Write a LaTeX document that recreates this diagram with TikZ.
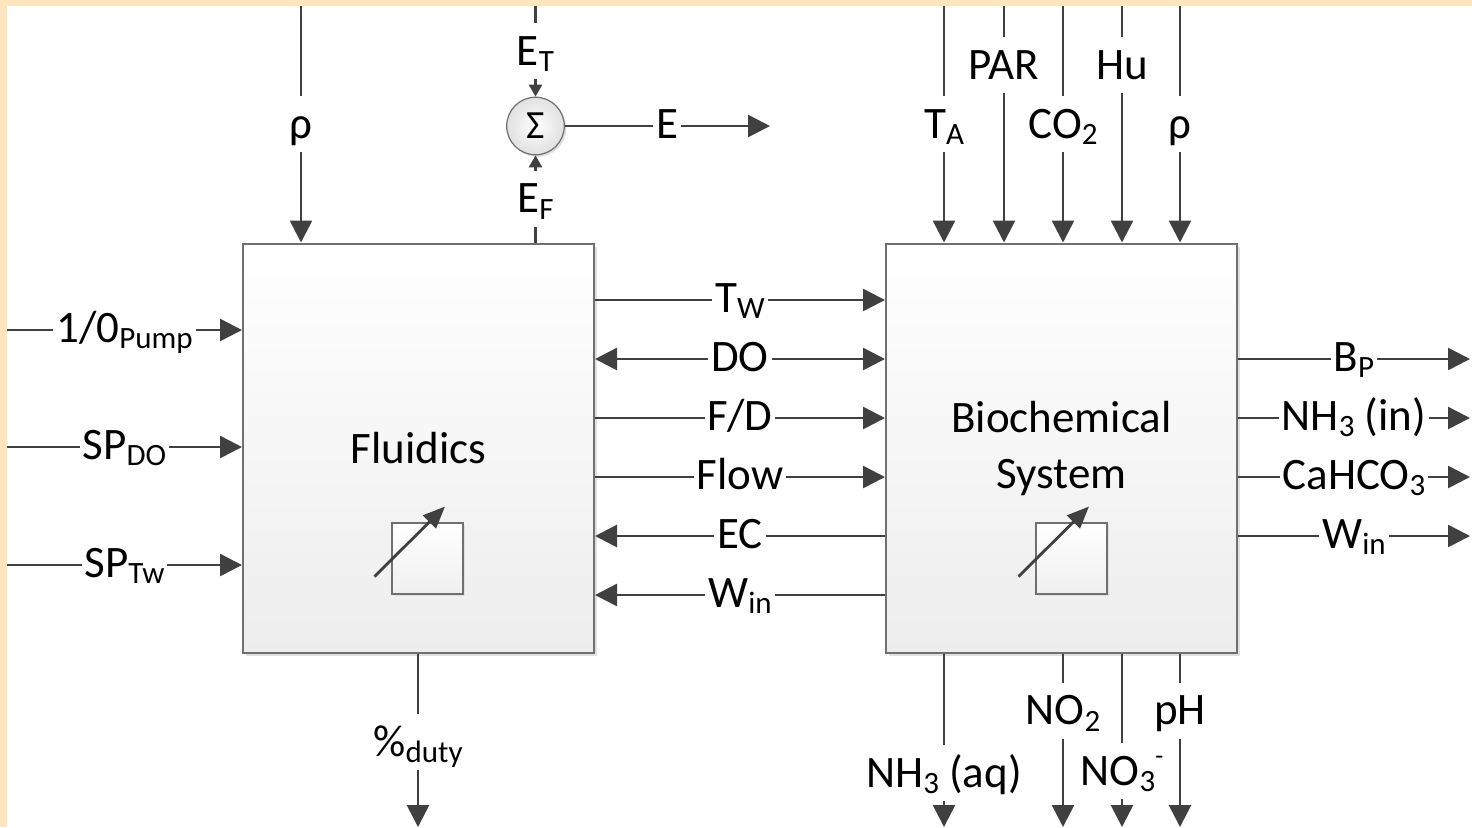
\documentclass[tikz,border=0pt]{standalone}
\usepackage{fontspec}
\setmainfont{Carlito}
\usetikzlibrary{positioning,arrows.meta,shadows}

\definecolor{band}{RGB}{255,230,190}
\definecolor{ink}{RGB}{64,64,64}
\definecolor{rim}{RGB}{112,112,112}

\newcommand{\lo}[1]{\raisebox{-0.3ex}{\fontsize{15.5}{16}\selectfont #1}}
\newcommand{\hi}[1]{\raisebox{1.0ex}{\fontsize{13}{14}\selectfont #1}}

\begin{document}
\begin{tikzpicture}[
  x=0.5pt, y=-0.5pt,
  font=\fontsize{22.5}{26}\selectfont,
  blk/.style={draw=rim, line width=1pt, top color=white, bottom color=black!7,
    minimum width=175.5pt, minimum height=204.5pt, inner sep=0pt,
    font=\fontsize{22.5}{28}\selectfont, align=center,
    drop shadow={shadow xshift=1.5pt, shadow yshift=-1.5pt, fill=black!12, opacity=1}},
  knob/.style={draw=rim, line width=0.6pt, top color=white, bottom color=black!6,
    minimum size=35.5pt, inner sep=0pt,
    drop shadow={shadow xshift=1pt, shadow yshift=-1pt, fill=black!12, opacity=1}},
  sum/.style={circle, draw=rim, line width=0.6pt, inner color=white, outer color=black!12,
    minimum size=28.8pt, inner sep=0pt, font=\fontsize{20}{22}\selectfont,
    drop shadow={shadow xshift=1pt, shadow yshift=-1pt, fill=black!12, opacity=1}},
  arr/.style={-{Triangle[length=11pt,width=11pt]}, line width=1.3pt, draw=ink},
  arrs/.style={-{Triangle[length=6pt,width=6.5pt]}, line width=1.3pt, draw=ink},
  dbl/.style={{Triangle[length=11pt,width=11pt]}-{Triangle[length=11pt,width=11pt]}, line width=1.3pt, draw=ink},
  tune/.style={-{Triangle[length=11pt,width=9pt]}, line width=1.4pt, draw=ink},
  hlab/.style={fill=white, text=black, inner xsep=1.5pt, inner ysep=1pt, text height=14pt, text depth=2pt},
  vlab/.style={fill=white, text=black, inner xsep=2pt, inner ysep=3pt, text height=18pt, text depth=4pt}
]
  \useasboundingbox (0,0) rectangle (1472,827);
  \fill[band] (0,0) rectangle (1472,827);
  \fill[white] (7,6) rectangle (1472,827);

  % the two blocks
  \node[blk] (fluid) at (418.5,448) {Fluidics};
  \node[blk, right=145pt of fluid] (bio) {Biochemical\\System};

  \node[knob] (knobf) at (427.5,558.5) {};
  \node[knob] (knobb) at (1071.5,558.5) {};
  \draw[tune] ([shift={(-53,18)}]knobf.center) -- ([shift={(17.5,-52)}]knobf.center);
  \draw[tune] ([shift={(-53,18)}]knobb.center) -- ([shift={(17.5,-52)}]knobb.center);

  % energy sum
  \node[sum] (sum) at (535.5,126) {Σ};
  \coordinate (et) at (535.5,6);
  \coordinate (eout) at (770,126);
  \draw[arrs] (et) -- node[vlab]{E\lo{T}} (sum.north);
  \draw[arrs] (sum |- fluid.north) -- node[vlab]{E\lo{F}} (sum.south);
  \draw[arr] (sum.east) -- node[hlab]{E} (eout);

  % fluidics inputs and output
  \coordinate (pump) at (7,330);
  \coordinate (spdo) at (7,447);
  \coordinate (sptw) at (7,565);
  \coordinate (rhof) at (301,6);
  \coordinate (duty) at (418,827);
  \draw[arr] (pump) -- node[hlab]{1/0\lo{Pump}} (pump -| fluid.west);
  \draw[arr] (spdo) -- node[hlab]{SP\lo{DO}} (spdo -| fluid.west);
  \draw[arr] (sptw) -- node[hlab]{SP\lo{Tw}} (sptw -| fluid.west);
  \draw[arr] (rhof) -- node[vlab]{ρ} (rhof |- fluid.north);
  \draw[arr] (duty |- fluid.south) -- node[vlab, pos=0.51]{\%\lo{duty}} (duty);

  % signals between the blocks
  \coordinate (tw) at (741,300);
  \coordinate (do) at (741,359);
  \coordinate (fd) at (741,418);
  \coordinate (flow) at (741,477);
  \coordinate (ec) at (741,536);
  \coordinate (win) at (741,595);
  \draw[arr] (fluid.east |- tw) -- node[hlab]{T\lo{W}} (bio.west |- tw);
  \draw[dbl] (fluid.east |- do) -- node[hlab]{DO} (bio.west |- do);
  \draw[arr] (fluid.east |- fd) -- node[hlab]{F/D} (bio.west |- fd);
  \draw[arr] (fluid.east |- flow) -- node[hlab]{Flow} (bio.west |- flow);
  \draw[arr] (bio.west |- ec) -- node[hlab]{EC} (fluid.east |- ec);
  \draw[arr] (bio.west |- win) -- node[hlab]{W\lo{in}} (fluid.east |- win);

  % biochemical inputs and outputs
  \foreach \x/\lab/\p [count=\i] in {944/T\lo{A}/0.5, 1004/PAR/0.25, 1063/CO\lo{2}/0.5, 1122/Hu/0.25, 1180/ρ/0.5} {
    \coordinate (top\i) at (\x,6);
    \draw[arr] (top\i) -- node[vlab, pos=\p]{\lab} (top\i |- bio.north);
  }
  \foreach \x/\lab/\p [count=\i] in {944/NH\lo{3} (aq)/0.69, 1063/NO\lo{2}/0.33, 1122/NO\lo{3}\hi{-}/0.68, 1180/pH/0.33} {
    \coordinate (bot\i) at (\x,827);
    \draw[arr] (bot\i |- bio.south) -- node[vlab, pos=\p]{\lab} (bot\i);
  }
  \foreach \y/\lab [count=\i] in {359/B\lo{P}, 418/NH\lo{3} (in), 477/CaHCO\lo{3}, 536/W\lo{in}} {
    \coordinate (out\i) at (1470,\y);
    \draw[arr] (bio.east |- out\i) -- node[hlab]{\lab} (out\i);
  }
\end{tikzpicture}
\end{document}
